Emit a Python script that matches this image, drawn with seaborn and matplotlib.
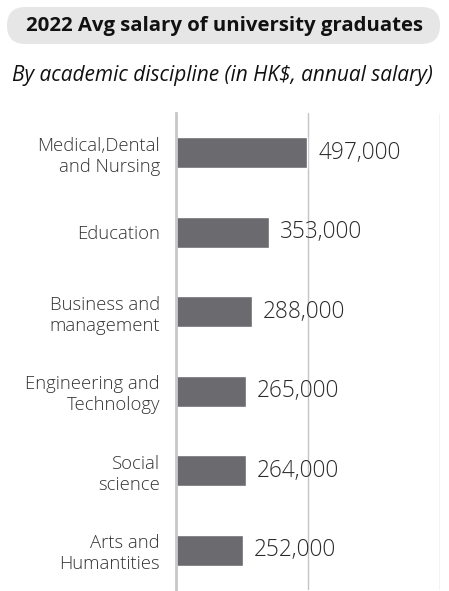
import matplotlib
matplotlib.use("Agg")
import matplotlib.pyplot as plt
from matplotlib.patches import FancyBboxPatch
import seaborn as sns
import pandas as pd

disciplines = [
    "Medical,Dental\nand Nursing",
    "Education",
    "Business and\nmanagement",
    "Engineering and\nTechnology",
    "Social\nscience",
    "Arts and\nHumantities",
]
salaries = [497000, 353000, 288000, 265000, 264000, 252000]
salary_labels = ["497,000", "353,000", "288,000", "265,000", "264,000", "252,000"]

title = "2022 Avg salary of university graduates"
subtitle = "By academic discipline (in HK$, annual salary)"

sns.set_theme(style="white")
plt.rcParams["font.family"] = ["Open Sans", "DejaVu Sans"]

df = pd.DataFrame({"discipline": disciplines, "salary": salaries})

W, H = 449, 591
fig = plt.figure(figsize=(W / 100, H / 100), dpi=100)
ax = fig.add_axes([176 / W, 1 / H, (440 - 176) / W, (590 - 113) / H])

sns.barplot(data=df, x="salary", y="discipline", orient="h", color="#6a6a6f",
            saturation=1, width=0.39, ax=ax)

ax.set_xlim(0, 1000000)
ax.set_ylim(5.5, -0.5)
ax.set_xticks([0, 500000, 1000000])
ax.xaxis.grid(True, color="#c4c4c4", linewidth=1.0)
ax.set_axisbelow(True)
ax.tick_params(axis="x", bottom=False, labelbottom=False)
ax.tick_params(axis="y", left=False, length=0, pad=11.5, labelsize=13.3,
               labelcolor="#333333")
for lbl in ax.get_yticklabels():
    lbl.set_horizontalalignment("right")
    lbl.set_multialignment("right")
    lbl.set_fontweight("light")
ax.set_xlabel("")
ax.set_ylabel("")
for side in ["top", "right", "bottom"]:
    ax.spines[side].set_visible(False)
ax.spines["left"].set_color("#c8c8c8")
ax.spines["left"].set_linewidth(2.0)

for i, (v, s) in enumerate(zip(salaries, salary_labels)):
    ax.annotate(s, xy=(v, i), xytext=(8, 0), textcoords="offset points",
                va="center", ha="left", fontsize=16.3, fontweight="light",
                color="#2a2a2a")

# Title in a pill-shaped box (coordinates in inches)
pill = FancyBboxPatch((0.07, (H - 44) / 100), 4.33, 0.37,
                      boxstyle="round,pad=0,rounding_size=0.185",
                      transform=fig.dpi_scale_trans, facecolor="#e6e6e6",
                      edgecolor="none")
fig.patches.append(pill)
fig.text(224 / W, 1 - 25.5 / H, title, ha="center", va="center",
         fontsize=14.7, fontweight="bold", color="#111111")
fig.text(222.5 / W, 1 - 75.5 / H, subtitle, ha="center", va="center",
         fontsize=15, fontstyle="italic", color="#111111")

fig.savefig("out.png", dpi=100)
